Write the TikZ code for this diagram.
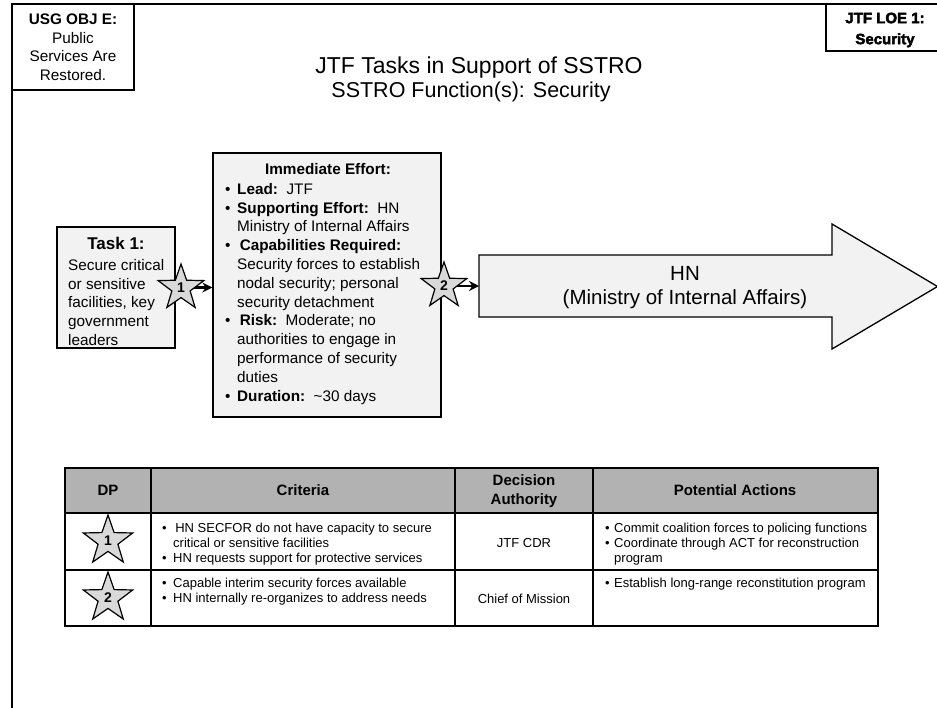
\documentclass[tikz,border=0pt]{standalone}
\usepackage{fontspec}
\setmainfont{Liberation Sans}
\newfontfamily\heavyfont[FakeBold=3]{Liberation Sans Bold}
\usetikzlibrary{shapes.geometric,arrows.meta}
\definecolor{boxgray}{HTML}{F2F2F2}
\definecolor{stargray}{HTML}{D9D9D9}
\definecolor{hdrgray}{HTML}{B2B2B2}
\newcommand{\fs}[2]{\fontsize{#1}{#2}\selectfont}
\newcommand{\bul}[1]{\makebox[#1][l]{•}}
\tikzset{
  framestyle/.style={line width=2pt},
  whitebox/.style={draw, line width=1.3pt, fill=white, inner sep=0pt},
  graybox/.style={draw, line width=1.3pt, fill=boxgray, inner sep=0pt},
  shapebox/.style={draw, line width=1.3pt, fill=boxgray, line join=miter},
  dpstar/.style={star, star points=5, star point ratio=2.5, draw, line width=1.2pt,
    fill=stargray, inner sep=0pt, font=\fs{14}{14}\bfseries},
  conn/.style={line width=2.5pt, -{Stealth[length=10pt,width=10pt]}},
  txt/.style={inner sep=0pt, align=left, font=\fs{15.3}{18.8}},
  ctxt/.style={inner sep=0pt, align=center, font=\fs{15.3}{18.5}},
  cell/.style={inner sep=0pt, align=left, font=\fs{13}{15}},
  ccell/.style={inner sep=0pt, align=center, font=\fs{13}{15}},
  hdr/.style={inner sep=0pt, align=center, font=\fs{15}{19.5}\bfseries},
  tbl/.style={line width=2pt},
  tblout/.style={line width=2.6pt},
}
\begin{document}
\begin{tikzpicture}[x=1pt,y=-1pt]
\useasboundingbox (0,0) rectangle (937,707);
% frame
\draw[framestyle] (12,708) -- (12,4) -- (938,4);
% corner boxes
\node[whitebox, minimum width=122pt, minimum height=86pt, ctxt] (usg) at (73,47)
  {\textbf{USG OBJ E:}\\Public\\Services Are\\Restored.};
\node[whitebox, minimum width=114pt, minimum height=47pt] (loe) at (883,27.5) {};
\node[inner sep=0pt, align=center, font=\fs{15}{21}\heavyfont] (loetxt) at (885,30)
  {JTF LOE 1:\\Security};
% titles
\node[inner sep=0pt, font=\fs{23}{23}] (title) at (479,68) {JTF Tasks in Support of SSTRO};
\node[inner sep=0pt, font=\fs{21.5}{21.5}] (subtitle) at (471,92) {SSTRO Function(s): Security};
% task box
\node[graybox, minimum width=118pt, minimum height=121pt] (task) at (116,287.5) {};
\node[inner sep=0pt, font=\fs{17}{17}\bfseries] (taskhead) at (116,243) {Task 1:};
\node[txt, anchor=north west] (tasktxt) at (68,259)
  {Secure critical\\or sensitive\\facilities, key\\government\\leaders};
% middle box
\node[graybox, minimum width=228pt, minimum height=264pt] (mid) at (327,285) {};
\node[inner sep=0pt, font=\fs{15.3}{15.3}\bfseries] (midhead) at (328,169) {Immediate Effort:};
\node[txt, anchor=north west] (midlist) at (225,183) {%
\bul{12pt}\textbf{Lead:}~~JTF\\
\bul{12pt}\textbf{Supporting Effort:}~~HN\\
\hspace*{12pt}Ministry of Internal Affairs\\
\bul{12pt}\,\textbf{Capabilities Required:}\\
\hspace*{12pt}Security forces to establish\\
\hspace*{12pt}nodal security; personal\\
\hspace*{12pt}security detachment\\
\bul{12pt}\,\textbf{Risk:}~~Moderate; no\\
\hspace*{12pt}authorities to engage in\\
\hspace*{12pt}performance of security\\
\hspace*{12pt}duties\\
\bul{12pt}\textbf{Duration:}~~\textasciitilde30 days};
% big arrow
\coordinate (hntail) at (479,286);
\draw[shapebox] (479,255) -- (832,255) -- (832,224) -- (937.5,286.5) -- (832,349)
  -- (832,317) -- (479,317) -- cycle;
\node[inner sep=0pt, align=center, font=\fs{20.5}{24}] (hntxt) at (685,288)
  {HN\\(Ministry of Internal Affairs)};
% connectors
\draw[conn] (task.east) -- (task.east -| mid.west);
\draw[conn] (mid.east |- hntail) -- (hntail);
% flow stars
\node[dpstar, minimum size=48pt] (s1) at (181,288) {1};
\node[dpstar, minimum size=48pt] (s2) at (444,286) {2};
% table
\fill[hdrgray] (65,468) rectangle (878,513);
\draw[tbl] (65,513) -- (878,513);
\draw[tbl] (65,570) -- (878,570);
\draw[tbl] (151,468) -- (151,626);
\draw[tbl] (455,468) -- (455,626);
\draw[tbl] (593,468) -- (593,626);
\draw[tblout] (65,468) rectangle (878,626);
\node[hdr] (hdp) at (108,490) {DP};
\node[hdr] (hcrit) at (303,490) {Criteria};
\node[hdr] (hauth) at (524,491) {Decision\\Authority};
\node[hdr] (hact) at (735,490) {Potential Actions};
\node[dpstar, minimum size=52pt] (t1) at (108,541) {1};
\node[dpstar, minimum size=52pt] (t2) at (108,598) {2};
\node[cell, anchor=north west] (c1) at (162,523)
  {\bul{11pt}\,HN SECFOR do not have capacity to secure\\
   \hspace*{11pt}critical or sensitive facilities\\
   \bul{11pt}HN requests support for protective services};
\node[cell, anchor=north west] (c2) at (162,578)
  {\bul{11pt}Capable interim security forces available\\
   \bul{11pt}HN internally re-organizes to address needs};
\node[ccell] (a1) at (524,543) {JTF CDR};
\node[ccell] (a2) at (524,599) {Chief of Mission};
\node[cell, anchor=north west] (p1) at (605,523)
  {\bul{9pt}Commit coalition forces to policing functions\\
   \bul{9pt}Coordinate through ACT for reconstruction\\
   \hspace*{9pt}program};
\node[cell, anchor=north west] (p2) at (605,578)
  {\bul{9pt}Establish long-range reconstitution program};
\end{tikzpicture}
\end{document}
